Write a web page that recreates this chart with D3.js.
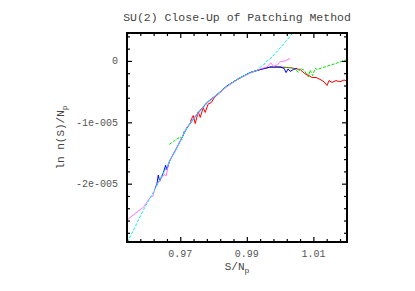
<!DOCTYPE html>
<html>
<head>
<meta charset="utf-8">
<script src="https://cdn.jsdelivr.net/npm/d3@7"></script>
<style>
  body { margin: 0; background: #fff; }
  text { font-family: "Liberation Mono", "DejaVu Sans Mono", monospace; }
</style>
</head>
<body>
<div id="chart"></div>
<script>

// values, y in units of 1e-5
var cyanS = [0.9535, 0.9560, 0.9590, 0.9620, 0.9660, 0.9690, 0.9720, 0.9750, 0.9780, 0.9810, 0.9840, 0.9875, 0.9910, 0.9930, 0.9942, 0.9950, 0.9958, 0.9970, 1.0000, 1.0025, 1.0050];
var cyanY = [-3.02, -2.75, -2.42, -2.13, -1.72, -1.41, -1.09, -0.87, -0.68, -0.55, -0.41, -0.29, -0.19, -0.16, -0.09, -0.07, -0.01, 0.03, 0.21, 0.37, 0.53];

var magentaS = [0.9540, 0.9590, 0.9610, 0.9618, 0.9625, 0.9640, 0.9652, 0.9658, 0.9665, 0.9690, 0.9720, 0.9750, 0.9780, 0.9810, 0.9840, 0.9875, 0.9910, 0.9940, 0.9960, 0.9972, 0.9980, 0.9992, 1.0002, 1.0015, 1.0030];
var magentaY = [-2.59, -2.38, -2.22, -2.20, -2.06, -1.93, -1.85, -1.87, -1.66, -1.41, -1.08, -0.88, -0.69, -0.55, -0.42, -0.29, -0.20, -0.13, -0.10, -0.03, -0.09, -0.06, -0.01, 0.00, 0.04];

var blueS = [0.9625, 0.9630, 0.9634, 0.9638, 0.9650, 0.9656, 0.9660, 0.9668, 0.9690, 0.9720, 0.9750, 0.9780, 0.9810, 0.9840, 0.9875, 0.9910, 0.9940, 0.9970, 1.0000, 1.0012, 1.0018, 1.0024, 1.0030, 1.0040, 1.0050];
var blueY = [-2.07, -2.00, -1.86, -1.96, -1.81, -1.70, -1.77, -1.63, -1.41, -1.09, -0.87, -0.68, -0.55, -0.41, -0.29, -0.19, -0.14, -0.10, -0.10, -0.12, -0.19, -0.13, -0.17, -0.14, -0.12];

var greenS = [0.9667, 0.9680, 0.9690, 0.9700, 0.9705, 0.9710, 0.9720, 0.9750, 0.9780, 0.9810, 0.9840, 0.9875, 0.9910, 0.9940, 0.9970, 1.0000, 1.0030, 1.0045, 1.0055, 1.0060, 1.0072, 1.0080, 1.0085, 1.0090, 1.0098, 1.0105, 1.0111, 1.0201];
var greenY = [-1.36, -1.31, -1.27, -1.24, -1.28, -1.16, -1.09, -0.87, -0.68, -0.55, -0.41, -0.29, -0.19, -0.14, -0.10, -0.10, -0.11, -0.13, -0.19, -0.12, -0.15, -0.22, -0.26, -0.15, -0.24, -0.12, -0.14, 0.02];

var redS = [0.9730, 0.9739, 0.9745, 0.9754, 0.9760, 0.9769, 0.9775, 0.9784, 0.9793, 0.9802, 0.9840, 0.9875, 0.9910, 0.9940, 0.9970, 1.0000, 1.0030, 1.0060, 1.0075, 1.0087, 1.0096, 1.0108, 1.0120, 1.0132, 1.0141, 1.0147, 1.0156, 1.0168, 1.0180, 1.0192, 1.0201];
var redY = [-0.99, -0.89, -1.02, -0.83, -0.92, -0.76, -0.84, -0.70, -0.68, -0.60, -0.41, -0.29, -0.19, -0.14, -0.10, -0.10, -0.11, -0.14, -0.21, -0.24, -0.27, -0.27, -0.30, -0.34, -0.40, -0.32, -0.35, -0.32, -0.34, -0.31, -0.33];

var xTicks = [0.97, 0.99, 1.01];
var xTickText = ["0.97", "0.99", "1.01"];
var yTicks = [0, -1, -2];
var yTickText = ["0", "-1e-005", "-2e-005"];

var series = [
  { name: "red", s: redS, y: redY, color: "#ff0000", dash: null },
  { name: "green", s: greenS, y: greenY, color: "#00e000", dash: "3,1.5" },
  { name: "blue", s: blueS, y: blueY, color: "#0000ff", dash: null },
  { name: "magenta", s: magentaS, y: magentaY, color: "#ff70ff", dash: null },
  { name: "cyan", s: cyanS, y: cyanY, color: "#00f0f0", dash: "3,1.5" }
];

var W = 415, H = 291;
var margin = { top: 33, right: 68, bottom: 49, left: 127 },
  width = W - margin.left - margin.right,
  height = H - margin.top - margin.bottom;

var svg = d3.select("#chart").append("svg")
  .attr("width", W)
  .attr("height", H);

var g = svg.append("g")
  .attr("transform", "translate(" + margin.left + "," + margin.top + ")");

var xScale = d3.scaleLinear().domain([0.954, 1.0201]).range([0, width]);
var yScale = d3.scaleLinear().domain([-2.95, 0.455]).range([height, 0]);

g.append("clipPath").attr("id", "clip")
  .append("rect").attr("width", width).attr("height", height);

var line = d3.line()
  .x(function (d) { return xScale(d[0]); })
  .y(function (d) { return yScale(d[1]); });

var lines = g.append("g").attr("clip-path", "url(#clip)");

series.forEach(function (sr) {
  var pts = sr.s.map(function (v, i) { return [v, sr.y[i]]; });
  lines.append("path")
    .datum(pts)
    .attr("fill", "none")
    .attr("stroke", sr.color)
    .attr("stroke-width", 1)
    .attr("stroke-dasharray", sr.dash)
    .attr("d", line);
});

// minor ticks every 0.004 on x, every 2e-6 on y
var xMinor = d3.range(0.954, 1.0205, 0.004).filter(function (v) {
  return xTicks.every(function (t) { return Math.abs(t - v) > 1e-6; });
});
var yMinor = d3.range(-2.8, 0.46, 0.2).filter(function (v) {
  return yTicks.every(function (t) { return Math.abs(t - v) > 1e-6; });
});

function xAxisAt(y0, dir) {
  g.append("g").attr("transform", "translate(0," + y0 + ")")
    .call(d3.axisBottom(xScale).tickValues(xTicks).tickSize(dir * 5).tickFormat(""))
    .call(function (a) { a.select(".domain").remove(); });
  g.append("g").attr("transform", "translate(0," + y0 + ")")
    .call(d3.axisBottom(xScale).tickValues(xMinor).tickSize(dir * 3).tickFormat(""))
    .call(function (a) { a.select(".domain").remove(); });
}
function yAxisAt(x0, dir) {
  g.append("g").attr("transform", "translate(" + x0 + ",0)")
    .call(d3.axisLeft(yScale).tickValues(yTicks).tickSize(dir * 5).tickFormat(""))
    .call(function (a) { a.select(".domain").remove(); });
  g.append("g").attr("transform", "translate(" + x0 + ",0)")
    .call(d3.axisLeft(yScale).tickValues(yMinor).tickSize(dir * 3).tickFormat(""))
    .call(function (a) { a.select(".domain").remove(); });
}
xAxisAt(height, -1);
xAxisAt(0, 1);
yAxisAt(0, -1);
yAxisAt(width, 1);

g.selectAll(".tick line").attr("stroke", "#000").attr("stroke-width", 1.2);

g.append("rect")
  .attr("width", width)
  .attr("height", height)
  .attr("fill", "none")
  .attr("stroke", "#000")
  .attr("stroke-width", 2);

// tick labels
g.selectAll(".xlab").data(xTicks).enter().append("text")
  .attr("x", function (d) { return xScale(d); })
  .attr("y", height + 15)
  .attr("text-anchor", "middle")
  .attr("font-size", 10)
  .attr("fill", "#555")
  .text(function (d, i) { return xTickText[i]; });

g.selectAll(".ylab").data(yTicks).enter().append("text")
  .attr("x", -9)
  .attr("y", function (d) { return yScale(d) + 3.5; })
  .attr("text-anchor", "end")
  .attr("font-size", 10)
  .attr("fill", "#555")
  .text(function (d, i) { return yTickText[i]; });

// title and axis labels
svg.append("text")
  .attr("x", margin.left + width / 2)
  .attr("y", 21)
  .attr("text-anchor", "middle")
  .attr("font-size", 11.5)
  .attr("fill", "#444")
  .text("SU(2) Close-Up of Patching Method");

var xl = svg.append("text")
  .attr("x", margin.left + width / 2)
  .attr("y", 270)
  .attr("text-anchor", "middle")
  .attr("font-size", 11)
  .attr("fill", "#444");
xl.append("tspan").text("S/N");
xl.append("tspan").attr("dy", 3).attr("font-size", 8).text("p");

var yl = svg.append("text")
  .attr("transform", "translate(64," + (margin.top + height / 2) + ") rotate(-90)")
  .attr("text-anchor", "middle")
  .attr("font-size", 11)
  .attr("fill", "#444");
yl.append("tspan").text("ln n(S)/N");
yl.append("tspan").attr("dy", 3).attr("font-size", 8).text("p");

</script>
</body>
</html>
